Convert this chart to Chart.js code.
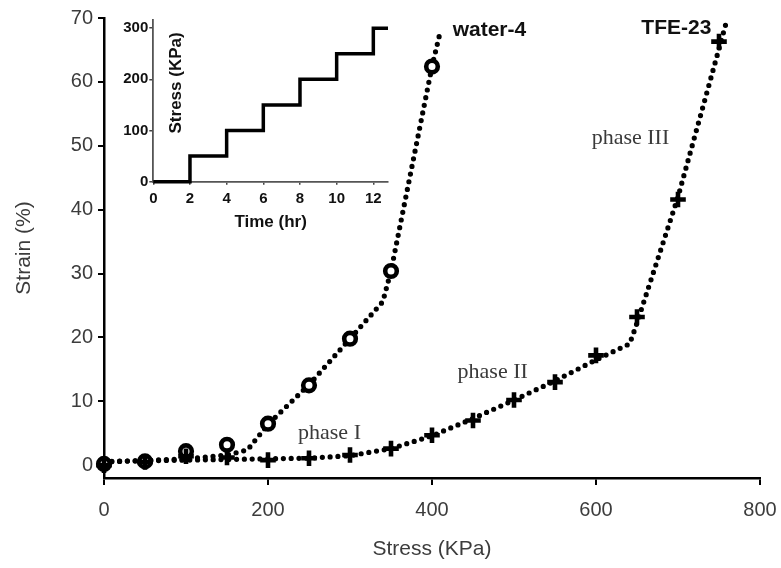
<!DOCTYPE html>
<html>
<head>
<meta charset="utf-8">
<script src="https://cdn.jsdelivr.net/npm/chart.js@4.4.0/dist/chart.umd.min.js"></script>
<style>
  html, body { margin: 0; padding: 0; background: #fff; }
  #wrap { position: relative; width: 781px; height: 568px; }
  #main { position: absolute; left: 0; top: 0; width: 781px; height: 568px; }
  #insetBox { position: absolute; left: 100px; top: 0px; width: 300px; height: 240px; }
</style>
</head>
<body>
<div id="wrap">
  <div id="main"><canvas id="c1"></canvas></div>
  <div id="insetBox"><canvas id="c2"></canvas></div>
</div>
<script>
// ---- Main chart data ----
const waterStress = [0, 50, 100, 150, 200, 250, 300, 350, 400];
const waterStrain = [0.2, 0.6, 2.2, 3.2, 6.5, 12.5, 19.8, 30.4, 62.4];
const tfeStress = [0, 50, 100, 150, 200, 250, 300, 350, 400, 450, 500, 550, 600, 650, 700, 750];
const tfeStrain = [0, 0.5, 1.4, 1.2, 0.8, 1.1, 1.6, 2.6, 4.7, 7.0, 10.2, 13.0, 17.2, 23.2, 41.6, 66.3];
// dotted trend lines
const waterFitStress = [0, 100, 150, 175, 200, 250, 300, 340, 350, 400, 410];
const waterFitStrain = [0.5, 1.0, 1.6, 2.4, 6.4, 12.6, 19.8, 25.6, 30.4, 62.4, 67.8];
const tfeFitStress = [0, 100, 200, 250, 300, 350, 400, 450, 500, 550, 600, 641, 648, 700, 758];
const tfeFitStrain = [0.6, 0.8, 1.0, 1.1, 1.5, 2.6, 4.6, 7.3, 10.2, 13.2, 16.5, 19.0, 21.5, 42.0, 68.9];
const xTicks = [0, 200, 400, 600, 800];
const yTicks = [0, 10, 20, 30, 40, 50, 60, 70];
const seriesNames = ['water-4', 'TFE-23'];
const phaseNames = ['phase I', 'phase II', 'phase III'];

// ---- Inset data ----
const timeHr = [0, 2, 4, 6, 8, 10, 12, 12.8];
const stepStress = [0, 50, 100, 150, 200, 250, 300, 300];
const insetXTicks = [0, 2, 4, 6, 8, 10, 12];
const insetYTicks = [0, 100, 200, 300];

const zip = (xs, ys) => xs.map((x, i) => ({ x: x, y: ys[i] }));

// annotation placement (data coordinates)
const textNotes = [
  { text: seriesNames[0], x: 470, y: 68.1, font: 'bold 21px "Liberation Sans", Arial, sans-serif', color: '#111' },
  { text: seriesNames[1], x: 698, y: 68.4, font: 'bold 21px "Liberation Sans", Arial, sans-serif', color: '#111' },
  { text: phaseNames[0], x: 275, y: 5.0, font: '22px "Liberation Serif", "Times New Roman", serif', color: '#3a3a3a' },
  { text: phaseNames[1], x: 474, y: 14.6, font: '22px "Liberation Serif", "Times New Roman", serif', color: '#3a3a3a' },
  { text: phaseNames[2], x: 642, y: 51.2, font: '22px "Liberation Serif", "Times New Roman", serif', color: '#3a3a3a' }
];

const notesPlugin = {
  id: 'notes',
  afterDatasetsDraw(chart) {
    const ctx = chart.ctx, xs = chart.scales.x, ys = chart.scales.y;
    ctx.save();
    ctx.textAlign = 'center';
    ctx.textBaseline = 'middle';
    textNotes.forEach(n => {
      ctx.font = n.font;
      ctx.fillStyle = n.color;
      ctx.fillText(n.text, xs.getPixelForValue(n.x), ys.getPixelForValue(n.y));
    });
    ctx.restore();
  }
};

const dotted = {
  borderColor: '#000',
  borderWidth: 5.2,
  borderDash: [0, 7.8],
  borderCapStyle: 'round',
  pointRadius: 0,
  showLine: true,
  fill: false,
  clip: false,
  order: 3
};

new Chart(document.getElementById('c1'), {
  type: 'scatter',
  data: {
    datasets: [
      Object.assign({ label: 'water-4 fit', data: zip(waterFitStress, waterFitStrain) }, dotted),
      Object.assign({ label: 'TFE-23 fit', data: zip(tfeFitStress, tfeFitStrain) }, dotted),
      {
        label: seriesNames[0],
        data: zip(waterStress, waterStrain),
        pointStyle: 'circle',
        pointRadius: 5.8,
        pointBorderWidth: 4.6,
        pointBorderColor: '#000',
        pointBackgroundColor: '#fff',
        showLine: false,
        clip: false,
        order: 2
      },
      {
        label: seriesNames[1],
        data: zip(tfeStress, tfeStrain),
        pointStyle: 'cross',
        pointRadius: 7.8,
        pointBorderWidth: 4.6,
        pointBorderColor: '#000',
        pointBackgroundColor: '#000',
        showLine: false,
        clip: false,
        order: 1
      }
    ]
  },
  options: {
    responsive: true,
    maintainAspectRatio: false,
    animation: false,
    layout: { autoPadding: false, padding: { left: 0, right: 21, top: 18, bottom: 0 } },
    plugins: { legend: { display: false }, tooltip: { enabled: false } },
    scales: {
      x: {
        type: 'linear',
        min: 0, max: 800,
        afterBuildTicks: s => { s.ticks = xTicks.map(v => ({ value: v })); },
        afterFit: s => { s.height = 90; s.paddingLeft = 0; s.paddingRight = 0; },
        grid: { display: true, drawOnChartArea: false, drawTicks: true, tickLength: 7, color: '#000', lineWidth: 2 },
        border: { display: true, color: '#000', width: 2.5 },
        ticks: { color: '#3c3c3c', padding: 13, font: { family: '"Liberation Sans", Arial, sans-serif', size: 20 } },
        title: { display: true, text: 'Stress (KPa)', color: '#3c3c3c', padding: { top: 4, bottom: 6 },
                 font: { family: '"Liberation Sans", Arial, sans-serif', size: 21 } }
      },
      y: {
        type: 'linear',
        min: -2, max: 70,
        afterBuildTicks: s => { s.ticks = yTicks.map(v => ({ value: v })); },
        afterFit: s => { s.width = 104; s.paddingTop = 0; s.paddingBottom = 0; },
        grid: { display: true, drawOnChartArea: false, drawTicks: true, tickLength: 6, color: '#000', lineWidth: 2 },
        border: { display: true, color: '#000', width: 2.5 },
        ticks: { color: '#3c3c3c', padding: 5, font: { family: '"Liberation Sans", Arial, sans-serif', size: 20 } },
        title: { display: true, text: 'Strain (%)', color: '#3c3c3c', padding: { top: 12, bottom: 0 },
                 font: { family: '"Liberation Sans", Arial, sans-serif', size: 21 } }
      }
    }
  },
  plugins: [notesPlugin]
});

// ---- Inset ----
const insetTitlePlugin = {
  id: 'insetTitle',
  afterDatasetsDraw(chart) {
    const ctx = chart.ctx, xs = chart.scales.x, ys = chart.scales.y;
    ctx.save();
    ctx.translate(xs.getPixelForValue(1.25), ys.getPixelForValue(193));
    ctx.rotate(-Math.PI / 2);
    ctx.font = 'bold 17px "Liberation Sans", Arial, sans-serif';
    ctx.fillStyle = '#111';
    ctx.textAlign = 'center';
    ctx.textBaseline = 'middle';
    ctx.fillText('Stress (KPa)', 0, 0);
    ctx.restore();
  }
};

new Chart(document.getElementById('c2'), {
  type: 'scatter',
  data: {
    datasets: [{
      label: 'Stress',
      data: zip(timeHr, stepStress),
      showLine: true,
      stepped: 'before',
      borderColor: '#000',
      borderWidth: 3.5,
      pointRadius: 0,
      fill: false,
      clip: false
    }]
  },
  options: {
    responsive: true,
    maintainAspectRatio: false,
    animation: false,
    layout: { autoPadding: false, padding: { left: 0, right: 12, top: 20, bottom: 0 } },
    plugins: { legend: { display: false }, tooltip: { enabled: false } },
    scales: {
      x: {
        type: 'linear',
        min: 0, max: 12.8,
        afterBuildTicks: s => { s.ticks = insetXTicks.map(v => ({ value: v })); },
        afterFit: s => { s.height = 58.3; s.paddingLeft = 0; s.paddingRight = 0; },
        grid: { display: true, drawOnChartArea: false, drawTicks: true, tickLength: 3, color: '#444', lineWidth: 1.5 },
        border: { display: true, color: '#555', width: 1.8 },
        ticks: { color: '#111', padding: 5, font: { family: '"Liberation Sans", Arial, sans-serif', size: 15, weight: 'bold' } },
        title: { display: true, text: 'Time (hr)', color: '#111', padding: { top: 2, bottom: 7 },
                 font: { family: '"Liberation Sans", Arial, sans-serif', size: 17, weight: 'bold' } }
      },
      y: {
        type: 'linear',
        min: 0, max: 316,
        afterBuildTicks: s => { s.ticks = insetYTicks.map(v => ({ value: v })); },
        afterFit: s => { s.width = 53.3; s.paddingTop = 0; s.paddingBottom = 0; },
        grid: { display: true, drawOnChartArea: false, drawTicks: true, tickLength: 4, color: '#444', lineWidth: 1.5 },
        border: { display: true, color: '#555', width: 1.8 },
        ticks: { color: '#111', padding: 1, font: { family: '"Liberation Sans", Arial, sans-serif', size: 15, weight: 'bold' } }
      }
    }
  },
  plugins: [insetTitlePlugin]
});
</script>
</body>
</html>
